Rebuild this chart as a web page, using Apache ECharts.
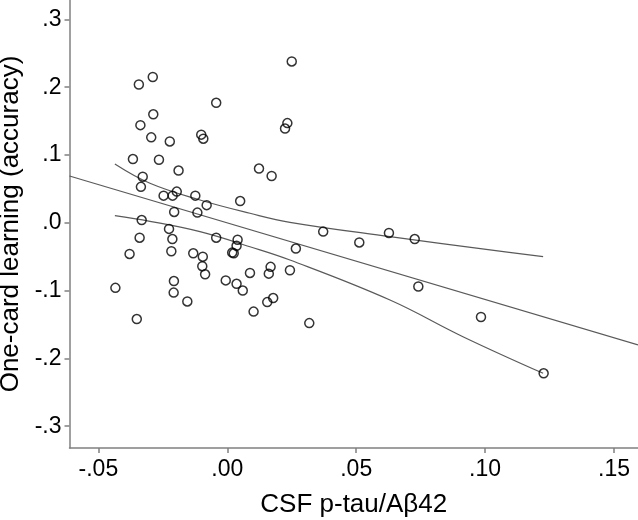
<!DOCTYPE html>
<html>
<head>
<meta charset="utf-8">
<script src="https://cdn.jsdelivr.net/npm/echarts@6/dist/echarts.min.js"></script>
<style>html,body{margin:0;padding:0;background:#fff}#c{width:638px;height:520px}</style>
</head>
<body>
<div id="c"></div>
<script>
// Scatter data: CSF p-tau/Aβ42 (x) vs one-card learning accuracy (y)
const ptauX = [-0.0343,-0.0289,-0.0043,-0.0337,-0.0287,-0.0295,-0.0223,-0.0101,-0.0093,-0.0366,
  -0.0265,-0.0189,-0.0328,0.0250,0.0233,0.0224,0.0123,0.0172,0.0050,-0.0080,
  -0.0116,0.0372,0.0627,0.0727,0.0512,-0.0043,0.0040,0.0036,0.0019,0.0025,
  0.0266,-0.0095,-0.0097,-0.0086,0.0168,0.0161,0.0088,0.0243,-0.0006,0.0036,
  0.0060,0.0178,0.0155,0.0102,0.0318,0.0741,-0.0335,-0.0247,-0.0212,-0.0196,
  -0.0124,-0.0206,-0.0332,-0.0226,-0.0340,-0.0213,-0.0217,-0.0379,-0.0132,-0.0434,
  -0.0207,-0.0208,-0.0155,-0.0351,0.0984,0.1227];
const accuracyY = [0.204,0.215,0.177,0.144,0.160,0.126,0.120,0.130,0.124,0.094,
  0.093,0.077,0.068,0.238,0.147,0.139,0.080,0.069,0.032,0.026,
  0.015,-0.013,-0.015,-0.024,-0.029,-0.022,-0.025,-0.034,-0.044,-0.045,
  -0.038,-0.050,-0.064,-0.076,-0.065,-0.075,-0.074,-0.070,-0.085,-0.090,
  -0.100,-0.111,-0.117,-0.131,-0.148,-0.094,0.053,0.040,0.040,0.046,
  0.040,0.016,0.004,-0.009,-0.022,-0.024,-0.042,-0.046,-0.045,-0.096,
  -0.086,-0.103,-0.116,-0.142,-0.139,-0.222];

// Fitted regression line (at the plot edges)
const fitX = [-0.0612, 0.1593];
const fitY = [0.069, -0.180];

// Confidence band
const upperX = [-0.0436,-0.0300,-0.0106,0.0088,0.0243,0.0631,0.1019,0.1225];
const upperY = [0.0867,0.0583,0.0336,0.0140,0.0007,-0.0205,-0.0401,-0.0500];
const lowerX = [-0.0436,-0.0300,-0.0106,0.0088,0.0243,0.0631,0.0914,0.1225];
const lowerY = [0.0105,0.0022,-0.0131,-0.0353,-0.0549,-0.1139,-0.1680,-0.2220];

// Tick labels
const xTicks = [-0.05, 0, 0.05, 0.10, 0.15];
const yTicks = [-0.3, -0.2, -0.1, 0, 0.1, 0.2, 0.3];

const zip = (a, b) => a.map((v, i) => [v, b[i]]);
const stripZero = s => s.replace(/^(-?)0\./, '$1.');

const font = "'Liberation Sans', Arial, sans-serif";
const axisGrey = '#808080';
const lineGrey = '#5a5a5a';

const chart = echarts.init(document.getElementById('c'), null, {renderer: 'canvas'});
chart.setOption({
  animation: false,
  backgroundColor: '#fff',
  grid: {left: 69.5, right: 0, top: 0, bottom: 72, containLabel: false, outerBoundsMode: 'none'},
  xAxis: {
    type: 'value', min: -0.0612, max: 0.1593,
    name: 'CSF p-tau/Aβ42', nameLocation: 'middle', nameGap: 44,
    nameTextStyle: {fontFamily: font, fontSize: 26, color: '#000'},
    axisLine: {show: true, onZero: false, lineStyle: {color: axisGrey, width: 1.5}},
    axisTick: {show: true, length: 5, customValues: xTicks, lineStyle: {color: axisGrey, width: 1.5}},
    axisLabel: {customValues: xTicks, margin: 10, fontFamily: font, fontSize: 23, color: '#000',
      formatter: v => stripZero(v.toFixed(2))},
    splitLine: {show: false}
  },
  yAxis: {
    type: 'value', min: -0.3322, max: 0.3286,
    name: 'One-card learning (accuracy)', nameLocation: 'middle', nameGap: 38, nameRotate: 90,
    nameTextStyle: {fontFamily: font, fontSize: 26, color: '#000'},
    axisLine: {show: true, onZero: false, lineStyle: {color: axisGrey, width: 1.5}},
    axisTick: {show: true, length: 5, customValues: yTicks, lineStyle: {color: axisGrey, width: 1.5}},
    axisLabel: {customValues: yTicks, margin: 8, fontFamily: font, fontSize: 23, color: '#000',
      formatter: v => stripZero(v.toFixed(1))},
    splitLine: {show: false}
  },
  series: [
    {type: 'line', data: zip(fitX, fitY), symbol: 'none', lineStyle: {color: lineGrey, width: 1.2}, z: 1},
    {type: 'line', data: zip(upperX, upperY), symbol: 'none', smooth: 0.4, lineStyle: {color: lineGrey, width: 1.2}, z: 1},
    {type: 'line', data: zip(lowerX, lowerY), symbol: 'none', smooth: 0.4, lineStyle: {color: lineGrey, width: 1.2}, z: 1},
    {type: 'scatter', data: zip(ptauX, accuracyY), symbol: 'circle', symbolSize: 9,
      itemStyle: {color: 'rgba(0,0,0,0)', borderColor: '#000', borderWidth: 1.5}, z: 3}
  ]
});
</script>
</body>
</html>
